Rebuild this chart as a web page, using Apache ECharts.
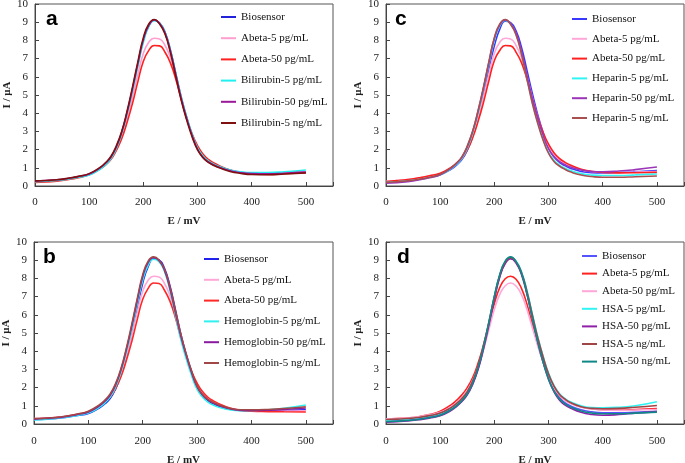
<!DOCTYPE html>
<html><head><meta charset="utf-8">
<script src="https://cdn.jsdelivr.net/npm/echarts@6/dist/echarts.min.js"></script>
<style>html,body{margin:0;padding:0;background:#fff}#c{width:685px;height:463px}</style>
</head><body><div id="c"></div><script>
// Potential axis (mV), shared by every curve
const E_mV = [0,20,40,60,80,100,120,
  130,140,150,160,170,180,190,200,210,220,230,240,250,260,270,280,290,300,310,320,330,340,
  360,380,400,430,460,500];
const xTicks = [0,100,200,300,400,500];
const yTicks = [0,1,2,3,4,5,6,7,8,9,10];

// Panel a
const a_names = ['Biosensor','Abeta-5 pg/mL','Abeta-50 pg/mL','Bilirubin-5 pg/mL','Bilirubin-50 pg/mL','Bilirubin-5 ng/mL'];
const a_biosensor = [0.25,0.28,0.32,0.40,0.50,0.64,0.98,
  1.22,1.55,2.10,2.90,4.00,5.30,6.70,8.00,8.80,9.12,8.95,8.45,7.45,6.15,4.85,3.75,2.80,2.08,1.62,1.35,1.18,1.05,
  0.86,0.74,0.69,0.68,0.71,0.78];
const a_abeta5 = [0.27,0.29,0.33,0.41,0.51,0.64,0.96,
  1.18,1.50,2.00,2.75,3.75,4.90,6.15,7.30,7.90,8.12,8.08,7.72,7.05,6.05,4.85,3.75,2.85,2.15,1.68,1.41,1.23,1.08,
  0.88,0.76,0.70,0.69,0.72,0.78];
const a_abeta50 = [0.20,0.22,0.27,0.35,0.46,0.62,0.93,
  1.15,1.45,1.95,2.60,3.50,4.55,5.75,6.85,7.45,7.72,7.70,7.35,6.75,5.85,4.75,3.70,2.85,2.22,1.76,1.46,1.27,1.12,
  0.88,0.74,0.66,0.64,0.67,0.73];
const a_bil5 = [0.24,0.27,0.31,0.38,0.48,0.60,0.92,
  1.16,1.50,2.05,2.85,3.95,5.20,6.60,7.90,8.75,9.08,8.95,8.45,7.48,6.18,4.88,3.80,2.85,2.10,1.65,1.38,1.20,1.07,
  0.88,0.78,0.74,0.74,0.78,0.88];
const a_bil50 = [0.27,0.30,0.34,0.41,0.52,0.66,1.00,
  1.25,1.58,2.14,2.95,4.05,5.35,6.75,8.05,8.82,9.12,8.93,8.40,7.40,6.10,4.80,3.72,2.78,2.02,1.58,1.32,1.16,1.03,
  0.84,0.73,0.68,0.67,0.70,0.76];
const a_bil5ng = [0.28,0.30,0.34,0.42,0.53,0.68,1.02,
  1.28,1.62,2.20,3.00,4.12,5.45,6.85,8.15,8.90,9.15,8.90,8.35,7.32,6.00,4.70,3.62,2.70,1.98,1.55,1.30,1.13,1.00,
  0.80,0.69,0.63,0.62,0.66,0.72];

// Panel b
const b_names = ['Biosensor','Abeta-5 pg/mL','Abeta-50 pg/mL','Hemoglobin-5 pg/mL','Hemoglobin-50 pg/mL','Hemoglobin-5 ng/mL'];
const b_biosensor = [0.25,0.27,0.31,0.38,0.47,0.58,0.88,
  1.10,1.40,1.92,2.70,3.75,5.00,6.40,7.75,8.65,9.08,9.02,8.55,7.60,6.30,4.95,3.82,2.85,2.05,1.58,1.28,1.10,0.98,
  0.82,0.74,0.72,0.72,0.74,0.78];
const b_abeta5 = [0.30,0.32,0.36,0.43,0.54,0.68,1.00,
  1.22,1.50,2.00,2.75,3.75,4.90,6.15,7.30,7.90,8.12,8.08,7.72,7.05,6.05,4.85,3.75,2.85,2.15,1.68,1.41,1.23,1.08,
  0.88,0.77,0.72,0.71,0.71,0.72];
const b_abeta50 = [0.28,0.31,0.35,0.43,0.54,0.68,1.00,
  1.20,1.48,1.95,2.60,3.50,4.55,5.75,6.85,7.45,7.75,7.72,7.35,6.75,5.85,4.75,3.72,2.88,2.25,1.78,1.47,1.27,1.12,
  0.88,0.75,0.70,0.68,0.67,0.66];
const b_hem5 = [0.22,0.25,0.30,0.37,0.47,0.60,0.92,
  1.15,1.48,2.03,2.85,3.95,5.20,6.60,7.90,8.72,9.05,8.92,8.38,7.35,6.00,4.65,3.58,2.65,1.90,1.48,1.20,1.04,0.92,
  0.78,0.73,0.74,0.78,0.86,1.04];
const b_hem50 = [0.27,0.30,0.34,0.41,0.52,0.66,1.00,
  1.25,1.58,2.15,2.98,4.10,5.40,6.80,8.10,8.88,9.15,8.98,8.45,7.45,6.15,4.85,3.78,2.82,2.05,1.60,1.32,1.15,1.02,
  0.84,0.76,0.74,0.76,0.80,0.88];
const b_hem5ng = [0.30,0.32,0.36,0.44,0.55,0.70,1.05,
  1.30,1.65,2.22,3.05,4.18,5.50,6.90,8.20,8.95,9.18,9.00,8.50,7.55,6.25,4.95,3.85,2.90,2.08,1.62,1.35,1.18,1.05,
  0.86,0.78,0.78,0.80,0.85,0.95];

// Panel c
const c_names = ['Biosensor','Abeta-5 pg/mL','Abeta-50 pg/mL','Heparin-5 pg/mL','Heparin-50 pg/mL','Heparin-5 ng/mL'];
const c_biosensor = [0.22,0.25,0.30,0.38,0.48,0.62,0.92,
  1.14,1.45,1.96,2.75,3.80,5.05,6.45,7.70,8.62,9.06,8.98,8.52,7.62,6.38,5.10,3.92,2.92,2.10,1.60,1.30,1.12,0.98,
  0.80,0.73,0.72,0.74,0.78,0.85];
const c_abeta5 = [0.26,0.30,0.36,0.44,0.55,0.68,1.00,
  1.22,1.52,2.02,2.75,3.75,4.90,6.15,7.30,7.90,8.12,8.08,7.72,7.05,6.05,4.85,3.78,2.88,2.18,1.72,1.43,1.25,1.10,
  0.90,0.80,0.75,0.74,0.76,0.80];
const c_abeta50 = [0.25,0.30,0.36,0.45,0.56,0.70,1.02,
  1.24,1.52,1.98,2.65,3.55,4.60,5.80,6.90,7.45,7.72,7.70,7.35,6.78,5.88,4.80,3.78,2.95,2.30,1.83,1.52,1.31,1.15,
  0.92,0.80,0.74,0.72,0.73,0.75];
const c_hep5 = [0.20,0.23,0.28,0.36,0.47,0.62,0.95,
  1.18,1.52,2.08,2.90,4.00,5.30,6.70,8.00,8.80,9.10,8.90,8.35,7.30,5.95,4.60,3.52,2.58,1.85,1.42,1.15,0.98,0.85,
  0.68,0.60,0.58,0.58,0.61,0.66];
const c_hep50 = [0.15,0.18,0.24,0.33,0.45,0.62,0.98,
  1.24,1.58,2.16,3.00,4.12,5.40,6.80,8.10,8.85,9.13,8.92,8.40,7.42,6.10,4.80,3.72,2.80,2.05,1.62,1.35,1.18,1.05,
  0.88,0.80,0.78,0.82,0.90,1.04];
const c_hep5ng = [0.20,0.23,0.29,0.37,0.48,0.64,1.00,
  1.26,1.60,2.20,3.02,4.15,5.45,6.85,8.15,8.90,9.15,8.88,8.30,7.25,5.90,4.55,3.45,2.52,1.80,1.35,1.10,0.92,0.78,
  0.60,0.52,0.48,0.48,0.51,0.55];

// Panel d
const d_names = ['Biosensor','Abeta-5 pg/mL','Abeta-50 pg/mL','HSA-5 pg/mL','HSA-50 pg/mL','HSA-5 ng/mL','HSA-50 ng/mL'];
const d_biosensor = [0.15,0.18,0.22,0.28,0.38,0.52,0.82,
  1.02,1.28,1.64,2.22,3.05,4.20,5.52,6.92,8.12,8.85,9.10,8.88,8.28,7.22,5.92,4.62,3.52,2.58,1.90,1.45,1.18,1.00,
  0.78,0.67,0.62,0.61,0.64,0.70];
const d_abeta5 = [0.28,0.30,0.33,0.40,0.52,0.70,1.05,
  1.30,1.60,2.00,2.55,3.35,4.35,5.50,6.62,7.50,7.98,8.12,7.95,7.45,6.60,5.50,4.40,3.42,2.60,1.98,1.58,1.32,1.15,
  0.95,0.84,0.78,0.76,0.79,0.85];
const d_abeta50 = [0.28,0.30,0.33,0.40,0.50,0.64,0.95,
  1.18,1.45,1.85,2.40,3.15,4.10,5.20,6.30,7.12,7.60,7.75,7.58,7.10,6.30,5.30,4.30,3.38,2.60,1.98,1.58,1.30,1.12,
  0.92,0.82,0.77,0.75,0.77,0.80];
const d_hsa5 = [0.20,0.23,0.28,0.34,0.44,0.58,0.88,
  1.08,1.36,1.72,2.30,3.12,4.25,5.58,6.98,8.18,8.92,9.15,8.95,8.38,7.35,6.05,4.80,3.72,2.80,2.12,1.68,1.40,1.22,
  1.00,0.90,0.89,0.92,1.00,1.22];
const d_hsa50 = [0.10,0.13,0.17,0.23,0.32,0.45,0.74,
  0.96,1.24,1.60,2.18,3.00,4.12,5.45,6.85,8.08,8.82,9.08,8.85,8.22,7.15,5.85,4.52,3.40,2.45,1.78,1.32,1.05,0.88,
  0.64,0.52,0.48,0.52,0.60,0.68];
const d_hsa5ng = [0.25,0.27,0.30,0.36,0.46,0.60,0.90,
  1.12,1.40,1.78,2.36,3.20,4.32,5.62,7.00,8.18,8.90,9.14,8.92,8.32,7.30,6.00,4.75,3.68,2.75,2.08,1.64,1.38,1.18,
  0.95,0.86,0.84,0.86,0.92,1.02];
const d_hsa50ng = [0.12,0.15,0.19,0.25,0.35,0.48,0.78,
  1.00,1.28,1.66,2.25,3.10,4.25,5.60,7.02,8.22,8.95,9.18,8.92,8.28,7.18,5.85,4.52,3.40,2.48,1.80,1.38,1.12,0.94,
  0.72,0.60,0.56,0.56,0.60,0.65];

const panelLetters = ['a','b','c','d'];
const panelNames = [a_names, b_names, c_names, d_names];
const panelValues = [
  [a_biosensor,a_abeta5,a_abeta50,a_bil5,a_bil50,a_bil5ng],
  [b_biosensor,b_abeta5,b_abeta50,b_hem5,b_hem50,b_hem5ng],
  [c_biosensor,c_abeta5,c_abeta50,c_hep5,c_hep50,c_hep5ng],
  [d_biosensor,d_abeta5,d_abeta50,d_hsa5,d_hsa50,d_hsa5ng,d_hsa50ng]
];
const panelColors = [
  ['#2222dd','#ff9fd0','#ff2020','#22f0f0','#9a189a','#801010'],
  ['#2222ee','#ffa8d8','#ff2828','#30f0f0','#8a1aa0','#a04848'],
  ['#3838ff','#ffa8d8','#ff2020','#30f4f4','#9b36b8','#a85050'],
  ['#5555ff','#ff2020','#ffa8d8','#30f4f4','#9020a8','#a04545','#108888']
];

// Layout
const grids = [
  {left:35, top:4, width:298, height:182},
  {left:34, top:242, width:299, height:182},
  {left:386, top:4, width:298, height:182},
  {left:386, top:242, width:298, height:182}
];
const legendPos = [
  {left:221, top:11, itemGap:9.2},
  {left:204, top:253, itemGap:8.8},
  {left:572, top:13, itemGap:7.8},
  {left:582, top:250, itemGap:5.6}
];
const letterPos = [[46,19.6],[43,257.6],[395,19.6],[397,257.6]];
const xNameGap = [30,31,30,31];
const xLabelMargin = [11,12,11,12];
const yNameGap = [20,20,22,22];

const SERIF = '"Liberation Serif","Times New Roman",serif';
const axisCol = '#444';

const option = {
  animation:false,
  backgroundColor:'#fff',
  grid: grids.map(g=>Object.assign({show:true, borderColor:'#555', borderWidth:1, containLabel:false, outerBoundsMode:'none'}, g)),
  xAxis: grids.map((g,i)=>({
    type:'value', gridIndex:i, min:0, max:550, interval:100,
    name:'E / mV', nameLocation:'middle', nameGap:xNameGap[i],
    nameTextStyle:{fontFamily:SERIF, fontWeight:'bold', fontSize:11, color:'#222'},
    axisLine:{show:true, lineStyle:{color:axisCol, width:1}},
    axisTick:{show:true, inside:true, length:4, lineStyle:{color:axisCol}},
    axisLabel:{fontFamily:SERIF, fontSize:11, color:'#222', margin:xLabelMargin[i],
      formatter:v=> xTicks.includes(v) ? String(v) : ''},
    splitLine:{show:false}
  })),
  yAxis: grids.map((g,i)=>({
    type:'value', gridIndex:i, min:0, max:10, interval:1,
    name:'I / μA', nameLocation:'middle', nameGap:yNameGap[i], nameRotate:90,
    nameTextStyle:{fontFamily:SERIF, fontWeight:'bold', fontSize:11, color:'#222'},
    axisLine:{show:true, lineStyle:{color:axisCol, width:1}},
    axisTick:{show:true, inside:true, length:4, lineStyle:{color:axisCol}},
    axisLabel:{fontFamily:SERIF, fontSize:11, color:'#222', margin:7,
      formatter:v=> yTicks.includes(v) ? String(v) : ''},
    splitLine:{show:false}
  })),
  legend: panelNames.map((names,i)=>({
    orient:'vertical', left:legendPos[i].left, top:legendPos[i].top,
    itemGap:legendPos[i].itemGap, itemWidth:15, itemHeight:2, padding:0,
    icon:'rect',
    data: names.map(n=>panelLetters[i]+':'+n),
    formatter: n=>n.slice(2),
    textStyle:{fontFamily:SERIF, fontSize:11, color:'#111', lineHeight:12, height:12},
    selectedMode:false
  })),
  graphic: panelLetters.map((l,i)=>({
    type:'text', x:letterPos[i][0], y:letterPos[i][1], silent:true,
    style:{text:l, font:'bold 21px "Liberation Sans", Arial, sans-serif', fill:'#000', verticalAlign:'middle', align:'left'}
  })),
  series: []
};

panelNames.forEach((names,i)=>{
  names.forEach((n,k)=>{
    option.series.push({
      type:'line', name:panelLetters[i]+':'+n, xAxisIndex:i, yAxisIndex:i,
      data: E_mV.map((x,j)=>[x, panelValues[i][k][j]]),
      smooth:0.5, symbol:'none', showSymbol:false,
      lineStyle:{width:1.6, color:panelColors[i][k]},
      itemStyle:{color:panelColors[i][k]},
      emphasis:{disabled:true}
    });
  });
});

const chart = echarts.init(document.getElementById('c'), null, {renderer:'canvas'});
chart.setOption(option);
</script></body></html>
